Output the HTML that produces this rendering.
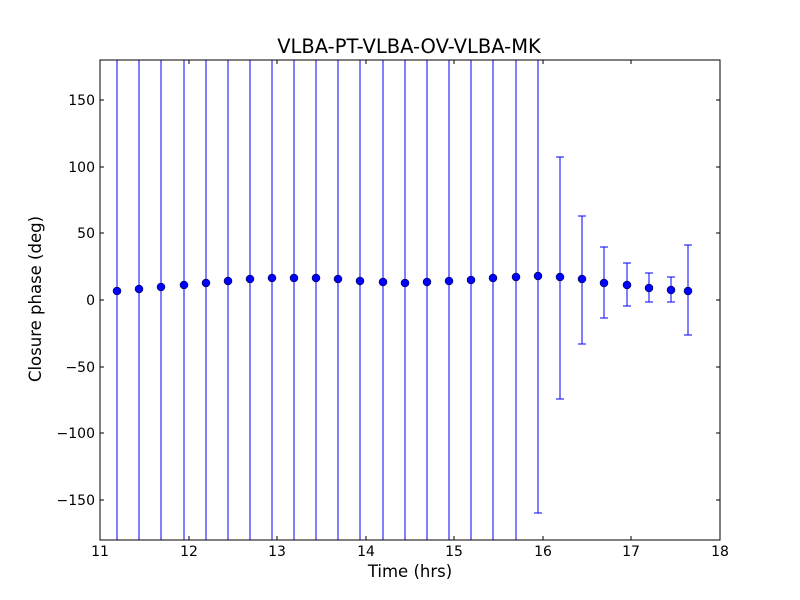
<!DOCTYPE html>
<html><head><style>body{margin:0;background:#fff}svg{display:block}text{font-family:"DejaVu Sans","Liberation Sans",sans-serif}</style></head><body>
<svg width="800" height="600" xmlns="http://www.w3.org/2000/svg">
<rect width="800" height="600" fill="#fff"/>
<defs><clipPath id="c"><rect x="100" y="60" width="620" height="480"/></clipPath></defs>
<g clip-path="url(#c)" stroke="#0000ff" stroke-width="1" shape-rendering="crispEdges">
<line x1="117" y1="40" x2="117" y2="560"/><line x1="139" y1="40" x2="139" y2="560"/><line x1="161" y1="40" x2="161" y2="560"/><line x1="184" y1="40" x2="184" y2="560"/><line x1="206" y1="40" x2="206" y2="560"/><line x1="228" y1="40" x2="228" y2="560"/><line x1="250" y1="40" x2="250" y2="560"/><line x1="272" y1="40" x2="272" y2="560"/><line x1="294" y1="40" x2="294" y2="560"/><line x1="316" y1="40" x2="316" y2="560"/><line x1="338" y1="40" x2="338" y2="560"/><line x1="360" y1="40" x2="360" y2="560"/><line x1="383" y1="40" x2="383" y2="560"/><line x1="405" y1="40" x2="405" y2="560"/><line x1="427" y1="40" x2="427" y2="560"/><line x1="449" y1="40" x2="449" y2="560"/><line x1="471" y1="40" x2="471" y2="560"/><line x1="493" y1="40" x2="493" y2="560"/><line x1="516" y1="40" x2="516" y2="560"/>
<line x1="538" y1="40" x2="538" y2="513"/><line x1="534" y1="513" x2="542" y2="513"/>
<line x1="560" y1="157" x2="560" y2="399"/><line x1="556" y1="157" x2="564" y2="157"/><line x1="556" y1="399" x2="564" y2="399"/>
<line x1="582" y1="216" x2="582" y2="344"/><line x1="578" y1="216" x2="586" y2="216"/><line x1="578" y1="344" x2="586" y2="344"/>
<line x1="604" y1="247" x2="604" y2="318"/><line x1="600" y1="247" x2="608" y2="247"/><line x1="600" y1="318" x2="608" y2="318"/>
<line x1="627" y1="263" x2="627" y2="306"/><line x1="623" y1="263" x2="631" y2="263"/><line x1="623" y1="306" x2="631" y2="306"/>
<line x1="649" y1="273" x2="649" y2="302"/><line x1="645" y1="273" x2="653" y2="273"/><line x1="645" y1="302" x2="653" y2="302"/>
<line x1="671" y1="277" x2="671" y2="302"/><line x1="667" y1="277" x2="675" y2="277"/><line x1="667" y1="302" x2="675" y2="302"/>
<line x1="688" y1="245" x2="688" y2="335"/><line x1="684" y1="245" x2="692" y2="245"/><line x1="684" y1="335" x2="692" y2="335"/>
</g>
<g fill="#0000ff" stroke="#000" stroke-width="0.5">
<circle cx="117" cy="291" r="4"/><circle cx="139" cy="289" r="4"/><circle cx="161" cy="287" r="4"/><circle cx="184" cy="285" r="4"/><circle cx="206" cy="283" r="4"/><circle cx="228" cy="281" r="4"/><circle cx="250" cy="279" r="4"/><circle cx="272" cy="278" r="4"/><circle cx="294" cy="278" r="4"/><circle cx="316" cy="278" r="4"/><circle cx="338" cy="279" r="4"/><circle cx="360" cy="281" r="4"/><circle cx="383" cy="282" r="4"/><circle cx="405" cy="283" r="4"/><circle cx="427" cy="282" r="4"/><circle cx="449" cy="281" r="4"/><circle cx="471" cy="280" r="4"/><circle cx="493" cy="278" r="4"/><circle cx="516" cy="277" r="4"/><circle cx="538" cy="276" r="4"/><circle cx="560" cy="277" r="4"/><circle cx="582" cy="279" r="4"/><circle cx="604" cy="283" r="4"/><circle cx="627" cy="285" r="4"/><circle cx="649" cy="288" r="4"/><circle cx="671" cy="290" r="4"/><circle cx="688" cy="291" r="4"/>
</g>
<rect x="100" y="60" width="620" height="480" fill="none" stroke="#000" stroke-width="1" shape-rendering="crispEdges"/>
<g stroke="#000" stroke-width="1" shape-rendering="crispEdges">
<path d="M100 540v-4M100 60v4M189 540v-4M189 60v4M277 540v-4M277 60v4M366 540v-4M366 60v4M454 540v-4M454 60v4M543 540v-4M543 60v4M631 540v-4M631 60v4M720 540v-4M720 60v4"/>
<path d="M100 100h4M720 100h-4M100 167h4M720 167h-4M100 233h4M720 233h-4M100 300h4M720 300h-4M100 367h4M720 367h-4M100 433h4M720 433h-4M100 500h4M720 500h-4"/>
</g>
<g font-size="14" fill="#000" text-anchor="middle">
<text x="100" y="556">11</text><text x="189" y="556">12</text><text x="277" y="556">13</text><text x="366" y="556">14</text><text x="454" y="556">15</text><text x="543" y="556">16</text><text x="631" y="556">17</text><text x="720" y="556">18</text>
</g>
<g font-size="14" fill="#000" text-anchor="end">
<text x="95" y="105">150</text><text x="95" y="172">100</text><text x="95" y="238">50</text><text x="95" y="305">0</text><text x="95" y="372">−50</text><text x="95" y="438">−100</text><text x="95" y="505">−150</text>
</g>
<text x="410" y="577" font-size="16.5" text-anchor="middle">Time (hrs)</text>
<text x="41" y="299" font-size="16.5" text-anchor="middle" transform="rotate(-90 41 299)">Closure phase (deg)</text>
<text x="409" y="53" font-size="19.5" text-anchor="middle">VLBA-PT-VLBA-OV-VLBA-MK</text>
</svg>
</body></html>
